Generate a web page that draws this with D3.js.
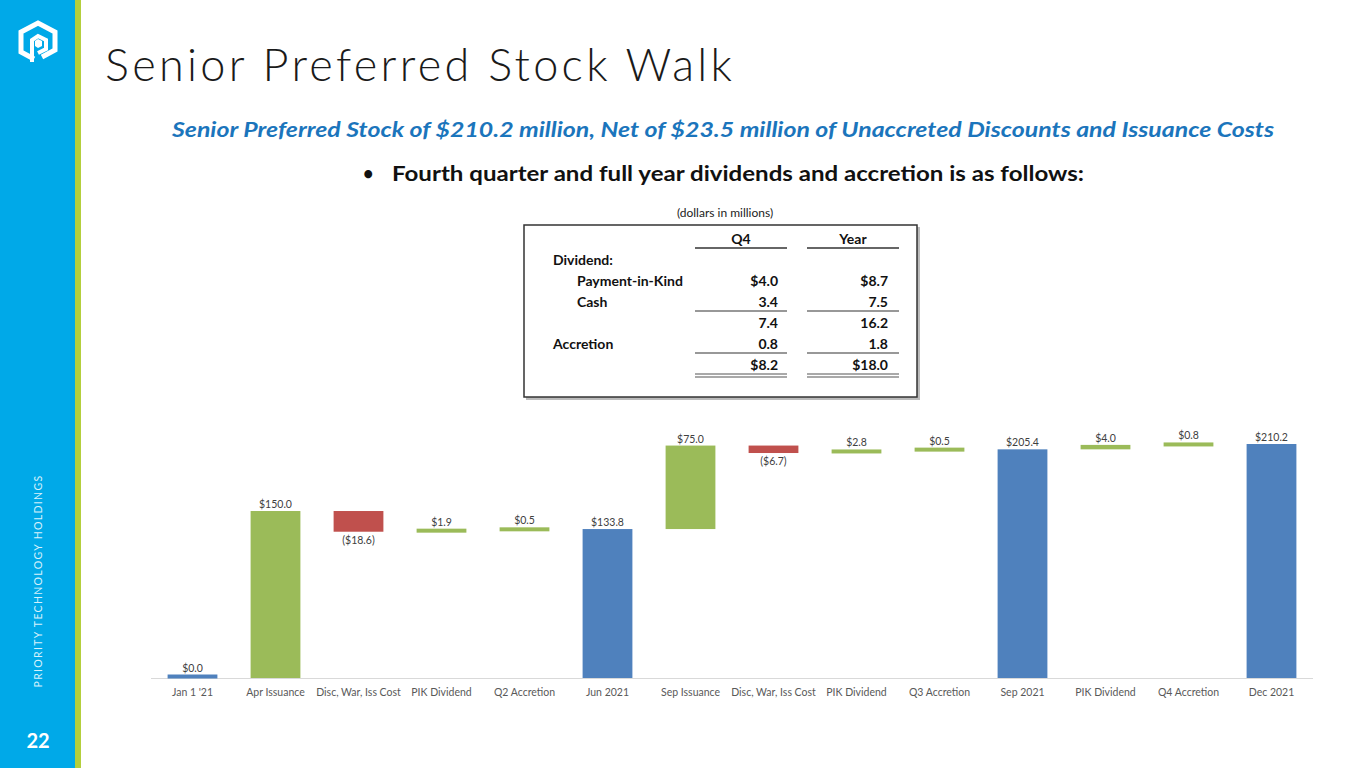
<!DOCTYPE html>
<html>
<head>
<meta charset="utf-8">
<script src="https://cdn.jsdelivr.net/npm/d3@7"></script>
<style>
  html, body { margin: 0; padding: 0; background: #fff; }
  svg { display: block; }
  text { font-family: Lato, "Open Sans", sans-serif; }
</style>
</head>
<body>
<div id="slide"></div>
<script>
// waterfall steps
var categories = ["Jan 1 '21", "Apr Issuance", "Disc, War, Iss Cost", "PIK Dividend", "Q2 Accretion", "Jun 2021",
    "Sep Issuance", "Disc, War, Iss Cost", "PIK Dividend", "Q3 Accretion", "Sep 2021", "PIK Dividend", "Q4 Accretion", "Dec 2021"];
var values = [0.0, 150.0, -18.6, 1.9, 0.5, 133.8, 75.0, -6.7, 2.8, 0.5, 205.4, 4.0, 0.8, 210.2];
var kinds = ["total", "inc", "dec", "inc", "inc", "total", "inc", "dec", "inc", "inc", "total", "inc", "inc", "total"];

// dividend table
var tableRows = ["Dividend:", "Payment-in-Kind", "Cash", "", "Accretion", ""];
var tableIndent = [false, true, true, false, false, false];
var q4Values = ["", "$4.0", "3.4", "7.4", "0.8", "$8.2"];
var yearValues = ["", "$8.7", "7.5", "16.2", "1.8", "$18.0"];
var tableHeaders = ["Q4", "Year"];

var colors = { total: "#4F81BD", inc: "#9BBB59", dec: "#C0504D" };

var W = 1365, H = 768;
var svg = d3.select("#slide").append("svg").attr("width", W).attr("height", H);

// ---- sidebar ----
svg.append("rect").attr("x", 0).attr("y", 0).attr("width", 75).attr("height", H).attr("fill", "#00A9E8");
svg.append("rect").attr("x", 75).attr("y", 0).attr("width", 6).attr("height", H).attr("fill", "#B4CF3C");

// logo (simplified cube "P")
var gLogo = svg.append("g").attr("transform", "translate(38,42)").attr("fill", "none").attr("stroke", "#fff");
gLogo.append("path")
    .attr("d", "M-4,17 L-17,10 L-17,-10 L0,-19 L17,-10 L17,8 L4,15")
    .attr("stroke-width", 5).attr("stroke-linejoin", "miter");
gLogo.append("path")
    .attr("d", "M-6,20 L-6,-2 L0,-6 L8,-2 L8,7 L0,11")
    .attr("stroke-width", 4);
gLogo.append("path").attr("d", "M0,-3 L4,-1 L4,4 L0,6 L-3,4 L-3,-1 Z")
    .attr("fill", "#fff").attr("stroke", "none");

svg.append("text")
    .attr("transform", "translate(42,581) rotate(-90)")
    .attr("text-anchor", "middle")
    .attr("font-size", 10.5)
    .attr("letter-spacing", 1.4)
    .attr("fill", "#d6f1fc")
    .attr("textLength", 213)
    .text("PRIORITY TECHNOLOGY HOLDINGS");

svg.append("text")
    .attr("x", 38).attr("y", 748)
    .attr("text-anchor", "middle")
    .attr("font-size", 20).attr("font-weight", 700)
    .attr("fill", "#fff")
    .text("22");

// ---- headings ----
svg.append("text")
    .attr("x", 105).attr("y", 81)
    .attr("font-size", 45).attr("font-weight", 300)
    .attr("fill", "#1a1a1a")
    .attr("textLength", 627)
    .text("Senior Preferred Stock Walk");

svg.append("text")
    .attr("x", 172).attr("y", 137)
    .attr("font-size", 20).attr("font-weight", 700).attr("font-style", "italic")
    .attr("font-family", "'Open Sans', Lato, sans-serif")
    .attr("fill", "#1B75BC")
    .attr("textLength", 1102)
    .attr("lengthAdjust", "spacingAndGlyphs")
    .text("Senior Preferred Stock of $210.2 million, Net of $23.5 million of Unaccreted Discounts and Issuance Costs");

svg.append("text")
    .attr("x", 363).attr("y", 180)
    .attr("font-size", 18).attr("font-weight", 700)
    .attr("font-family", "'Open Sans', sans-serif")
    .attr("fill", "#111")
    .text("\u2022");

svg.append("text")
    .attr("x", 392).attr("y", 181)
    .attr("font-size", 20).attr("font-weight", 700)
    .attr("font-family", "'Open Sans', Lato, sans-serif")
    .attr("fill", "#111")
    .attr("textLength", 692)
    .attr("lengthAdjust", "spacingAndGlyphs")
    .text("Fourth quarter and full year dividends and accretion is as follows:");

// ---- table ----
svg.append("text")
    .attr("x", 725).attr("y", 217)
    .attr("text-anchor", "middle")
    .attr("font-size", 12).attr("fill", "#222")
    .text("(dollars in millions)");

svg.append("rect").attr("x", 526).attr("y", 227).attr("width", 394).attr("height", 173).attr("fill", "#bbb");
svg.append("rect").attr("x", 524).attr("y", 225).attr("width", 393).attr("height", 172)
    .attr("fill", "#fff").attr("stroke", "#333").attr("stroke-width", 1.5);

var colX = [695, 807];      // column left edges
var colW = 92;
var rowY = [265, 286, 307, 328, 349, 370];

var gT = svg.append("g").attr("font-size", 14).attr("font-weight", 700).attr("fill", "#111");

tableHeaders.forEach(function(h, i) {
    gT.append("text").attr("x", colX[i] + colW / 2).attr("y", 244).attr("text-anchor", "middle").text(h);
    gT.append("line").attr("x1", colX[i]).attr("x2", colX[i] + colW).attr("y1", 248).attr("y2", 248)
        .attr("stroke", "#333").attr("stroke-width", 1.5);
});

tableRows.forEach(function(r, i) {
    gT.append("text").attr("x", tableIndent[i] ? 577 : 553).attr("y", rowY[i]).text(r);
    gT.append("text").attr("x", colX[0] + 83).attr("y", rowY[i]).attr("text-anchor", "end").text(q4Values[i]);
    gT.append("text").attr("x", colX[1] + 81).attr("y", rowY[i]).attr("text-anchor", "end").text(yearValues[i]);
});

colX.forEach(function(cx) {
    [311, 353].forEach(function(ly) {
        gT.append("line").attr("x1", cx).attr("x2", cx + colW).attr("y1", ly).attr("y2", ly)
            .attr("stroke", "#333").attr("stroke-width", 1.2);
    });
    [374, 377].forEach(function(ly) {
        gT.append("line").attr("x1", cx).attr("x2", cx + colW).attr("y1", ly).attr("y2", ly)
            .attr("stroke", "#555").attr("stroke-width", 1.2);
    });
});

// ---- waterfall chart ----
var steps = [];
var running = 0;
values.forEach(function(v, i) {
    var s;
    if (kinds[i] === "total") {
        s = { start: 0, end: v };
        running = v;
    } else {
        s = { start: running, end: running + v };
        running += v;
    }
    s.name = categories[i];
    s.value = v;
    s.kind = kinds[i];
    s.idx = i;
    steps.push(s);
});

var x = d3.scaleBand()
    .domain(d3.range(categories.length))
    .range([151, 1313])
    .paddingInner(0.4)
    .paddingOuter(0.2);

var y = d3.scaleLinear()
    .domain([0, d3.max(steps, function(d) { return Math.max(d.start, d.end); })])
    .range([678, 444]);

var gC = svg.append("g");

// axis line
gC.append("line").attr("x1", 151).attr("x2", 1313).attr("y1", y(0) + 0.5).attr("y2", y(0) + 0.5)
    .attr("stroke", "#d9d9d9").attr("stroke-width", 1);

var minH = 4;
function barBox(d) {
    var y0 = y(Math.max(d.start, d.end));
    var y1 = y(Math.min(d.start, d.end));
    var h = y1 - y0;
    if (h < minH) {
        var mid = (y0 + y1) / 2;
        if (d.value === 0) mid = y(0) - 1.5;
        y0 = mid - minH / 2;
        h = minH;
    }
    return { y: y0, h: h };
}

gC.selectAll("rect.bar").data(steps).enter().append("rect")
    .attr("class", "bar")
    .attr("x", function(d) { return x(d.idx); })
    .attr("width", x.bandwidth())
    .attr("y", function(d) { return barBox(d).y; })
    .attr("height", function(d) { return barBox(d).h; })
    .attr("fill", function(d) { return colors[d.kind]; });

function fmt(v) {
    var s = "$" + d3.format(".1f")(Math.abs(v));
    return v < 0 ? "(" + s + ")" : s;
}

gC.selectAll("text.val").data(steps).enter().append("text")
    .attr("class", "val")
    .attr("x", function(d) { return x(d.idx) + x.bandwidth() / 2; })
    .attr("y", function(d) {
        var b = barBox(d);
        return d.value < 0 ? b.y + b.h + 12 : b.y - 3;
    })
    .attr("text-anchor", "middle")
    .attr("font-size", 10.5)
    .attr("fill", "#404040")
    .text(function(d) { return fmt(d.value); });

var xAxis = d3.axisBottom(x).tickSize(0).tickPadding(11)
    .tickFormat(function(i) { return categories[i]; });

var gX = gC.append("g").attr("transform", "translate(0," + y(0) + ")").call(xAxis);
gX.select(".domain").remove();
gX.selectAll("text").attr("font-size", 10.5).attr("fill", "#595959")
    .attr("font-family", "Lato, 'Open Sans', sans-serif");
</script>
</body>
</html>
